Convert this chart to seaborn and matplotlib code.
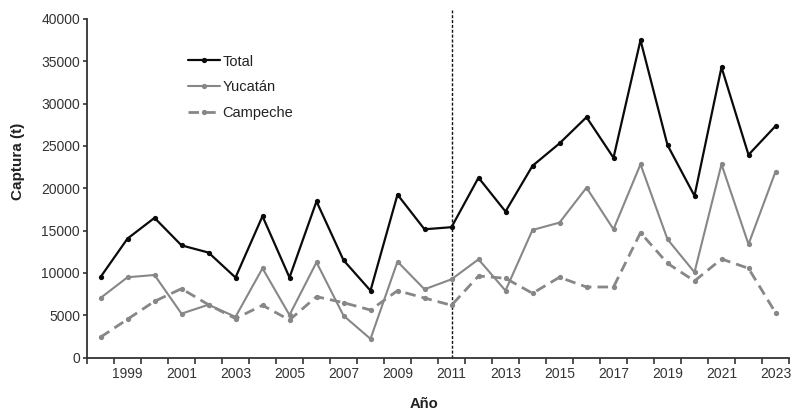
import numpy as np
import pandas as pd
import matplotlib
matplotlib.use("Agg")
import matplotlib.pyplot as plt
import seaborn as sns

years = list(range(1998, 2024))
total = [9500, 14050, 16500, 13250, 12400, 9450, 16700, 9450, 18450, 11500,
         7900, 19250, 15150, 15400, 21250, 17250, 22650, 25300, 28400, 23600,
         37500, 25100, 19100, 34300, 23950, 27350]
yucatan = [7030, 9480, 9750, 5180, 6240, 4800, 10540, 5020, 11250, 4950,
           2200, 11330, 8060, 9240, 11600, 7900, 15070, 15940, 20070, 15150,
           22830, 13970, 10070, 22830, 13380, 21960]
campeche = [2400, 4520, 6640, 8130, 6240, 4600, 6170, 4430, 7190, 6480,
            5610, 7900, 7030, 6170, 9630, 9360, 7590, 9480, 8330, 8330,
            14750, 11130, 9040, 11640, 10540, 5300]
year_labels = list(range(1999, 2024, 2))
y_ticks = list(range(0, 40001, 5000))
break_year = 2011

df = pd.DataFrame({"Año": years, "Total": total, "Yucatán": yucatan,
                   "Campeche": campeche})

sns.set_theme(style="white")
plt.rcParams["font.family"] = ["Liberation Sans", "DejaVu Sans"]

fig = plt.figure(figsize=(7.94, 4.11), dpi=100)
ax = fig.add_axes([87 / 794, 1 - 357.5 / 411, 702 / 794, 338.5 / 411])

sns.lineplot(data=df, x="Año", y="Total", ax=ax, color="#0a0a0a", lw=1.6,
             marker="o", markersize=3.8, markeredgewidth=0, label="Total")
sns.lineplot(data=df, x="Año", y="Yucatán", ax=ax, color="#878787", lw=1.5,
             marker="o", markersize=3.8, markeredgewidth=0, label="Yucatán")
sns.lineplot(data=df, x="Año", y="Campeche", ax=ax, color="#878787", lw=2.0,
             linestyle=(0, (3.8, 2.2)), marker="o", markersize=3.8,
             markeredgewidth=0, label="Campeche")

ax.axvline(break_year, ymin=0, ymax=1.027, color="#111111", lw=1.0,
           linestyle=(0, (2.2, 1.3)), clip_on=False, zorder=1)

ax.set_xlim(years[0] - 0.5, years[-1] + 0.5)
ax.set_ylim(0, 40000)

# category boundaries carry the tick marks, labels sit on the odd years
ax.set_xticks([y - 0.5 for y in years] + [years[-1] + 0.5])
ax.set_xticklabels([])
ax.set_xticks(year_labels, minor=True)
ax.set_xticklabels([str(y) for y in year_labels], minor=True)
ax.set_yticks(y_ticks)
ax.set_yticklabels([str(v) for v in y_ticks])

ax.tick_params(axis="x", which="major", direction="out", length=4,
               width=1.2, color="#333333", bottom=True)
ax.tick_params(axis="x", which="minor", length=0, pad=6.5,
               labelsize=10, labelcolor="#333333", bottom=True)
ax.tick_params(axis="y", direction="out", length=3, width=1.2,
               color="#333333", pad=2.0, labelsize=10,
               labelcolor="#333333", left=True)

for side in ("top", "right"):
    ax.spines[side].set_visible(False)
for side in ("left", "bottom"):
    ax.spines[side].set_color("#333333")
    ax.spines[side].set_linewidth(1.3)

ax.set_xlabel("Año", fontsize=10.6, fontweight="bold", color="#222222",
              va="top")
ax.xaxis.set_label_coords((424 - 87) / 702, (357.5 - 397) / 338.5)
ax.set_ylabel("Captura (t)", fontsize=11, fontweight="bold",
              color="#222222", va="center")
ax.yaxis.set_label_coords((18 - 87) / 702, (357.5 - 161.5) / 338.5)

leg = ax.legend(loc="upper left",
                bbox_to_anchor=((188 - 87) / 702, (357.5 - 54.5) / 338.5),
                frameon=False, fontsize=10.5, handlelength=2.2,
                handletextpad=0.15, labelspacing=0.8, borderpad=0,
                borderaxespad=0)
for t in leg.get_texts():
    t.set_color("#222222")

fig.savefig("out.png", dpi=100)
